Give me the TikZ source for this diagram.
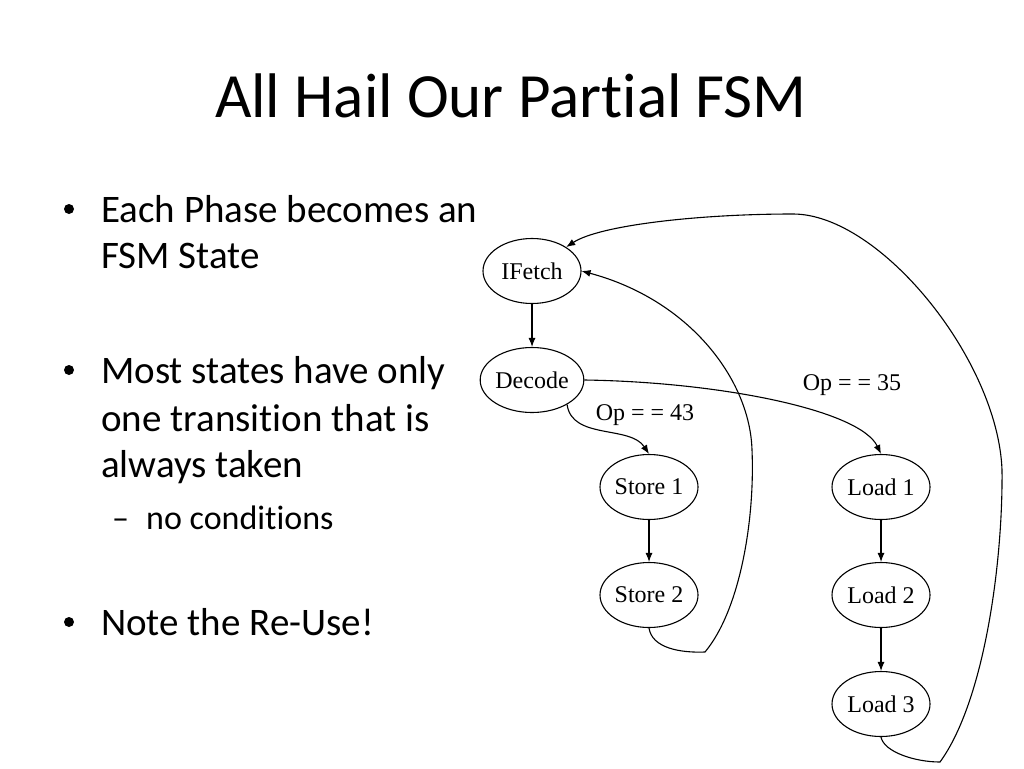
\documentclass[tikz,border=0pt]{standalone}
\usepackage{fontspec}
\setmainfont{Liberation Serif}
\newfontfamily\calibri[RawFeature={-liga;-dlig;-clig}]{Carlito}
\usetikzlibrary{shapes.geometric,arrows.meta}
\begin{document}
\begin{tikzpicture}[x=1pt,y=-1pt,
  state/.style={draw,ellipse,line width=1.1pt,minimum width=98pt,minimum height=65pt,inner sep=0pt,font=\fontsize{24}{24}\selectfont},
  edge/.style={draw,line width=1.1pt,-{Latex[length=9pt,width=7pt]}},
  lbl/.style={font=\fontsize{24}{24}\selectfont,inner sep=0pt},
  title/.style={font=\fontsize{63}{63}\calibri,inner sep=0pt,anchor=base},
  bul/.style={font=\fontsize{39}{39}\calibri,inner sep=0pt,anchor=base west},
  dot/.style={circle,fill,inner sep=0pt,minimum size=10pt},
  sub/.style={font=\fontsize{34}{34}\calibri,inner sep=0pt,anchor=base west}]
\path[use as bounding box,fill=white] (0,0) rectangle (1024,768);

\node[title] (t) at (511,117) {All Hail Our Partial FSM};

\node[dot] (b1d) at (69,209) {};
\node[bul] (b1a) at (101,222) {Each Phase becomes an};
\node[bul] (b1b) at (101,268) {FSM State};
\node[dot] (b2d) at (69,370) {};
\node[bul] (b2a) at (101,383) {Most states have only};
\node[bul] (b2b) at (101,431) {one transition that is};
\node[bul] (b2c) at (101,477) {always taken};
\node[sub] (s1d) at (112,529) {–};
\node[sub] (s1a) at (146,529) {no conditions};
\node[dot] (b3d) at (69,622) {};
\node[bul] (b3a) at (101,635) {Note the Re-Use!};

\node[state] (if) at (532,271) {IFetch};
\node[state] (de) at (532,380) {Decode};
\node[state] (s1) at (649,487) {Store 1};
\node[state] (s2) at (649,595) {Store 2};
\node[state] (l1) at (881,487) {Load 1};
\node[state] (l2) at (881,595) {Load 2};
\node[state] (l3) at (881,704) {Load 3};

\node[lbl] (op43) at (645,415) {Op = = 43};
\node[lbl] (op35) at (852,385) {Op = = 35};

\path[edge] (if) -- (de);
\path[edge] (s1) -- (s2);
\path[edge] (l1) -- (l2);
\path[edge] (l2) -- (l3);
\path[edge] (de.-35) .. controls (572,440) and (630,425) .. (s1.north);
\path[edge] (de.east) .. controls (720,382) and (860,410) .. (l1.north);

\coordinate (c1) at (705,652);
\coordinate (c2) at (752,450);
\path[edge] (s2.south) .. controls (652,648) and (680,653) .. (c1)
  .. controls (740,610) and (755,520) .. (c2)
  .. controls (750,380) and (690,300) .. (if.east);

\coordinate (d1) at (940,762);
\coordinate (d2) at (1002,470);
\coordinate (d3) at (793,214);
\path[edge] (l3.south) .. controls (884,752) and (915,762) .. (d1)
  .. controls (985,700) and (1003,560) .. (d2)
  .. controls (998,360) and (880,214) .. (d3)
  .. controls (700,214) and (600,225) .. (if.35);
\end{tikzpicture}
\end{document}
